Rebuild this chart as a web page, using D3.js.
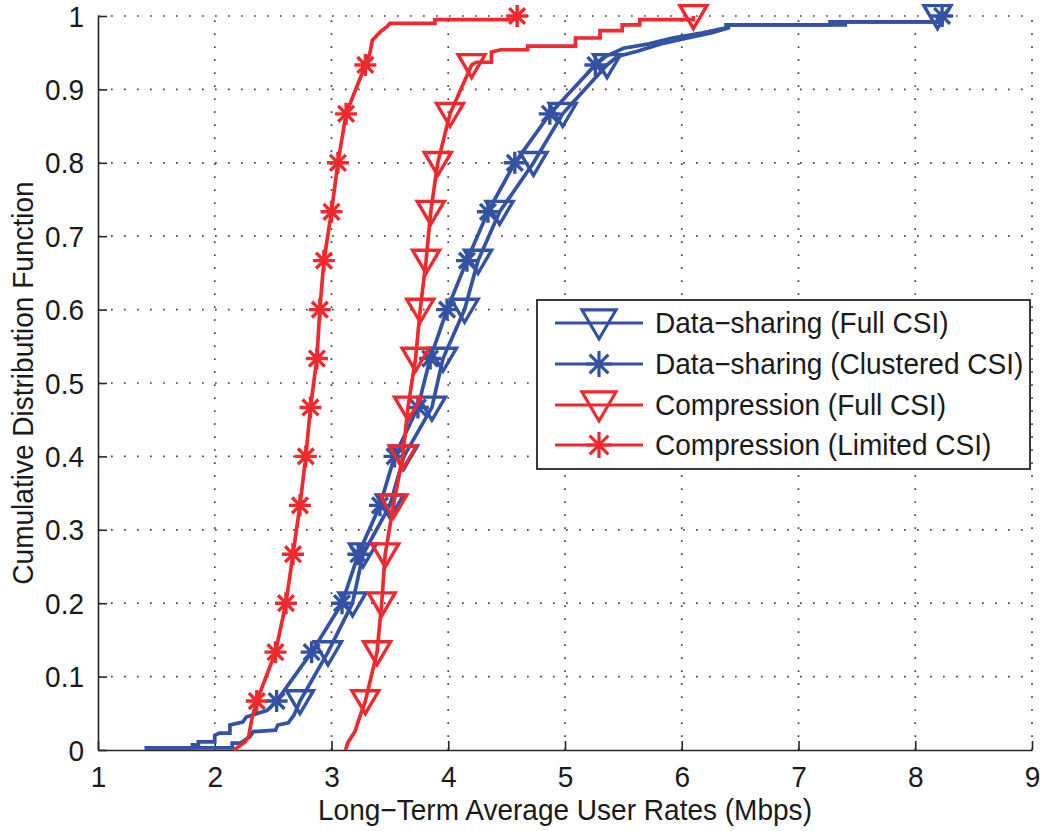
<!DOCTYPE html>
<html><head><meta charset="utf-8">
<script src="https://cdn.jsdelivr.net/npm/d3@7"></script>
<style>
body{margin:0;background:#fff}
text{font-family:"Liberation Sans",Arial,Helvetica,sans-serif;fill:#1a1a1a}
</style>
</head><body>
<svg id="chart" width="1040" height="831"></svg>
<script>
// ---------------- data ----------------
const xTicks = [1, 2, 3, 4, 5, 6, 7, 8, 9];
const yTicks = [0, 0.1, 0.2, 0.3, 0.4, 0.5, 0.6, 0.7, 0.8, 0.9, 1];
const yTickLabels = ["0", "0.1", "0.2", "0.3", "0.4", "0.5", "0.6", "0.7", "0.8", "0.9", "1"];
const xLabel = "Long\u2212Term Average User Rates (Mbps)";
const yLabel = "Cumulative Distribution Function";
const seriesNames = [
  "Data\u2212sharing (Full CSI)",
  "Data\u2212sharing (Clustered CSI)",
  "Compression (Full CSI)",
  "Compression (Limited CSI)"
];
// CDF levels at which markers are shown
const markerLevels = [0.0667, 0.1333, 0.2, 0.2667, 0.3333, 0.4, 0.4667, 0.5333, 0.6, 0.6667, 0.7333, 0.8, 0.8667, 0.9333, 1.0];

// x positions (Mbps) of each curve at the marker levels
const dsFullMarks      = [2.73, 2.97, 3.18, 3.27, 3.50, 3.62, 3.86, 3.955, 4.14, 4.255, 4.44, 4.73, 4.98, 5.36, 8.19];
const dsClusterMarks   = [2.53, 2.83, 3.09, 3.23, 3.415, 3.54, 3.74, 3.845, 3.99, 4.16, 4.34, 4.57, 4.87, 5.26, 8.23];
const compFullMarks    = [3.29, 3.39, 3.43, 3.46, 3.53, 3.61, 3.655, 3.72, 3.76, 3.81, 3.85, 3.91, 4.015, 4.20, 6.10];
const compLimitedMarks = [2.36, 2.52, 2.61, 2.67, 2.73, 2.78, 2.82, 2.875, 2.90, 2.935, 3.0, 3.055, 3.125, 3.29, 4.59];

// lower tails [x, F] (before first marker)
const dsFullLow = [[1.40,0.003],[2.15,0.003],[2.15,0.0095],[2.22,0.0095],[2.30,0.018],[2.33,0.025],[2.52,0.027],[2.54,0.034],[2.63,0.037],[2.68,0.048]];
const dsClusterLow = [[1.40,0.003],[1.81,0.003],[1.81,0.007],[1.86,0.007],[1.86,0.011],[2.0,0.011],[2.0,0.02],[2.04,0.023],[2.13,0.023],[2.13,0.034],[2.24,0.038],[2.27,0.045],[2.37,0.05],[2.45,0.054]];
const compFullLow = [[3.12,0.0],[3.14,0.01],[3.20,0.025],[3.24,0.044]];
const compLimitedLow = [[2.16,0.0],[2.20,0.004],[2.26,0.011],[2.29,0.018],[2.32,0.044]];

// upper tails [x, F] (between the 0.933 marker and the last sample)
const dsFullHigh = [[5.45,0.945],[5.62,0.952],[5.82,0.962],[6.05,0.97],[6.25,0.977],[6.40,0.984],[6.40,0.988],[7.40,0.988],[7.40,0.992],[8.19,0.992]];
const dsClusterHigh = [[5.35,0.945],[5.50,0.956],[5.72,0.962],[5.92,0.97],[6.18,0.977],[6.38,0.984],[6.38,0.988],[7.27,0.988],[7.27,0.992],[8.23,0.992]];
const compFullHigh = [[4.24,0.937],[4.37,0.937],[4.37,0.951],[4.45,0.954],[4.68,0.954],[4.68,0.959],[5.09,0.959],[5.09,0.97],[5.30,0.97],[5.30,0.98],[5.49,0.98],[5.49,0.988],[5.64,0.988],[5.64,0.995],[6.10,0.995]];
const compLimitedHigh = [[3.33,0.95],[3.35,0.967],[3.415,0.978],[3.48,0.986],[3.50,0.99],[3.886,0.99],[3.886,0.995],[4.59,0.995]];

const seriesColors = ["#3352a3", "#3352a3", "#ee2a2f", "#ee2a2f"];
const seriesMarkers = ["tri", "star", "tri", "star"];

// ---------------- build ----------------
function buildPath(low, marks, high) {
  const pts = low.slice();
  for (let i = 0; i < marks.length - 1; i++) pts.push([marks[i], markerLevels[i]]);
  high.forEach(p => pts.push(p));
  pts.push([marks[marks.length - 1], markerLevels[marks.length - 1]]);
  return pts;
}
const series = [
  {name: seriesNames[0], pts: buildPath(dsFullLow, dsFullMarks, dsFullHigh), marks: dsFullMarks},
  {name: seriesNames[1], pts: buildPath(dsClusterLow, dsClusterMarks, dsClusterHigh), marks: dsClusterMarks},
  {name: seriesNames[2], pts: buildPath(compFullLow, compFullMarks, compFullHigh), marks: compFullMarks},
  {name: seriesNames[3], pts: buildPath(compLimitedLow, compLimitedMarks, compLimitedHigh), marks: compLimitedMarks}
];
series.forEach((s, i) => { s.color = seriesColors[i]; s.marker = seriesMarkers[i]; });

const svg = d3.select("#chart");
const L = 98, R = 1032, T = 16, B = 750;
const x = d3.scaleLinear().domain([1, 9]).range([L, R]);
const y = d3.scaleLinear().domain([0, 1]).range([B, T]);
const FS = 29.5, SX = 0.95;

// grid
const grid = svg.append("g").attr("stroke", "#444").attr("stroke-width", 1.7).attr("stroke-dasharray", "1.7 11.3");
grid.selectAll(".gx").data(xTicks.slice(1)).enter().append("line")
  .attr("x1", d => x(d)).attr("x2", d => x(d)).attr("y1", B).attr("y2", T);
grid.selectAll(".gy").data(yTicks.slice(1)).enter().append("line")
  .attr("y1", d => y(d)).attr("y2", d => y(d)).attr("x1", L).attr("x2", R);

// axes
const xAxis = d3.axisBottom(x).tickValues(xTicks).tickFormat(d3.format("d"))
  .tickSizeInner(-9).tickSizeOuter(0).tickPadding(16);
const yAxis = d3.axisLeft(y).tickValues(yTicks).tickFormat((d, i) => yTickLabels[i])
  .tickSizeInner(-9).tickSizeOuter(0).tickPadding(14);
const gx = svg.append("g").attr("transform", `translate(0,${B})`).call(xAxis);
const gy = svg.append("g").attr("transform", `translate(${L},0)`).call(yAxis);
[gx, gy].forEach(g => {
  g.select(".domain").attr("stroke", "#262626").attr("stroke-width", 1.6);
  g.selectAll(".tick line").attr("stroke", "#262626").attr("stroke-width", 1.6);
  g.selectAll(".tick text").attr("font-size", FS).attr("fill", "#1a1a1a")
    .attr("font-family", "'Liberation Sans', Arial, sans-serif");
});
gx.selectAll(".tick text").attr("transform", `scale(${SX},1)`);
gy.selectAll(".tick text").attr("transform", `scale(${SX},1)`).attr("x", -14 / SX).attr("dy", "0.34em");

// axis labels
svg.append("text").attr("transform", `translate(${(L + R) / 2},820) scale(${SX},1)`)
  .attr("text-anchor", "middle").attr("font-size", FS).text(xLabel);
svg.append("text").attr("transform", `translate(33,${(T + B) / 2}) rotate(-90) scale(${SX},1)`)
  .attr("text-anchor", "middle").attr("font-size", FS).text(yLabel);

// marker shapes
function markerPath(type, big) {
  if (type === "tri") {
    const w = big ? 34 : 27, h = big ? 29 : 23;
    return `M${-w/2},${-h*0.45}L${w/2},${-h*0.45}L0,${h*0.55}Z`;
  }
  const r = big ? 13 : 11, d = r * 0.72;
  return `M${-r},0L${r},0M0,${-r}L0,${r}M${-d},${-d}L${d},${d}M${-d},${d}L${d},${-d}`;
}

const line = d3.line().x(d => x(d[0])).y(d => y(d[1]));
series.forEach(s => {
  const g = svg.append("g");
  g.append("path").attr("d", line(s.pts)).attr("fill", "none")
    .attr("stroke", s.color).attr("stroke-width", 3.7).attr("stroke-linejoin", "miter");
  g.selectAll(".m").data(s.marks).enter().append("path")
    .attr("transform", (d, i) => `translate(${x(d)},${y(markerLevels[i])})`)
    .attr("d", markerPath(s.marker, false))
    .attr("fill", "none").attr("stroke", s.color).attr("stroke-width", 3.4);
});

// legend
const lg = svg.append("g");
lg.append("rect").attr("x", 537).attr("y", 300).attr("width", 493).attr("height", 169)
  .attr("fill", "#fff").attr("stroke", "#262626").attr("stroke-width", 1.8);
const legY = [323, 364, 405, 445];
series.forEach((s, i) => {
  const yy = legY[i];
  lg.append("line").attr("x1", 555).attr("x2", 643).attr("y1", yy).attr("y2", yy)
    .attr("stroke", s.color).attr("stroke-width", 3.2);
  lg.append("path").attr("transform", `translate(599,${yy})`).attr("d", markerPath(s.marker, true))
    .attr("fill", "none").attr("stroke", s.color).attr("stroke-width", 3.2);
  lg.append("text").attr("transform", `translate(655,${yy}) scale(${SX},1)`)
    .attr("dy", "0.35em").attr("font-size", FS).text(s.name);
});
</script>
</body></html>
